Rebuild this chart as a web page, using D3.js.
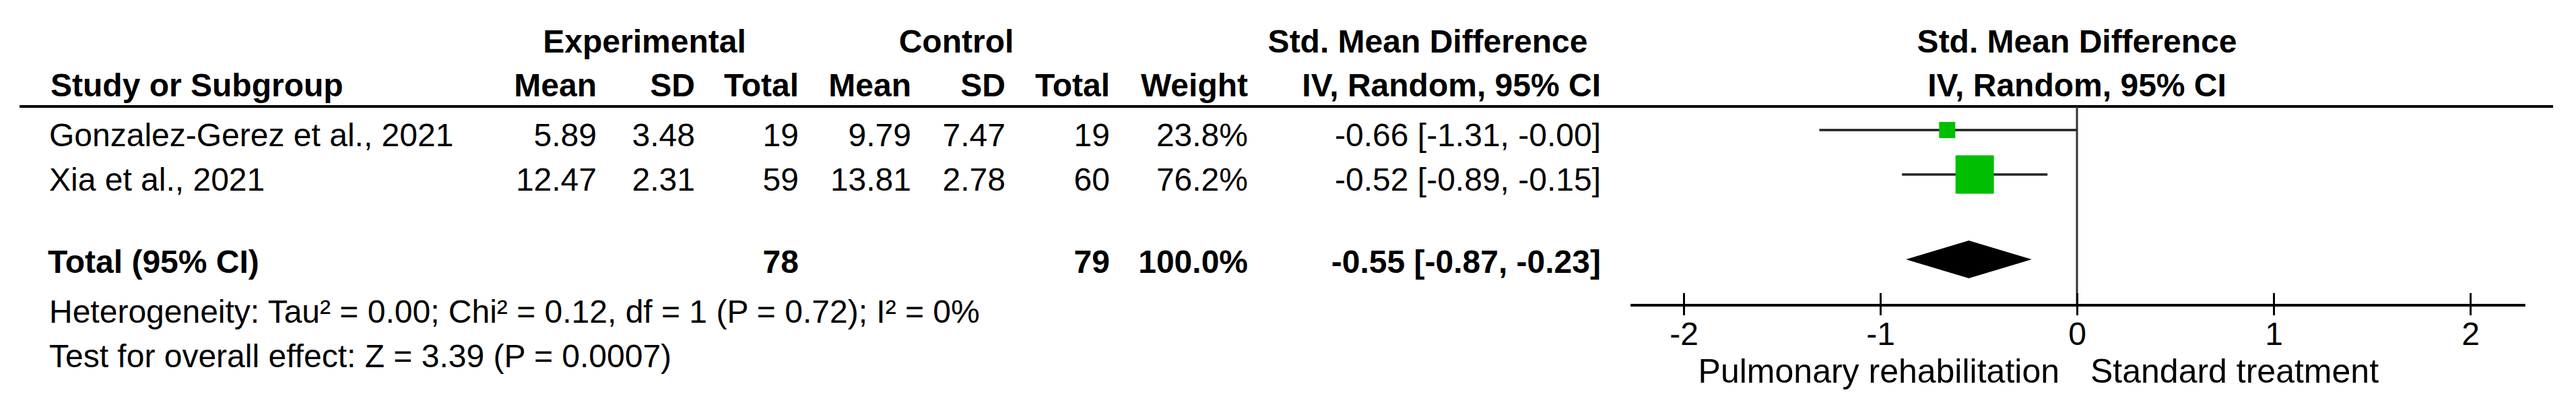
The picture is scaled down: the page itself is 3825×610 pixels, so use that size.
<!DOCTYPE html>
<html>
<head>
<meta charset="utf-8">
<script src="https://cdn.jsdelivr.net/npm/d3@7"></script>
<style>
  body { margin: 0; background: #fff; }
  svg { display: block; background: #fff; }
  text { font-family: "Liberation Sans", Arial, sans-serif; font-size: 48px; fill: #000; }
  .bold { font-weight: bold; }
  .favour { font-size: 50px; }
</style>
</head>
<body>
<svg id="forest"></svg>
<script>
// study data
var studies = ["Gonzalez-Gerez et al., 2021", "Xia et al., 2021"];
var expMean = [5.89, 12.47];
var expSD = [3.48, 2.31];
var expN = [19, 59];
var ctlMean = [9.79, 13.81];
var ctlSD = [7.47, 2.78];
var ctlN = [19, 60];
var weights = [23.8, 76.2];
var smd = [-0.66, -0.52];
var ciLow = [-1.31, -0.89];
var ciHigh = [-0.00, -0.15];

// pooled result
var totalExpN = 78;
var totalCtlN = 79;
var totalWeight = 100.0;
var totalSmd = -0.55;
var totalLow = -0.87;
var totalHigh = -0.23;
var hetStats = { tau2: "0.00", chi2: "0.12", df: 1, p: "0.72", i2: 0 };
var overall = { z: "3.39", p: "0.0007" };

var tickValues = [-2, -1, 0, 1, 2];
var favourLabels = ["Pulmonary rehabilitation", "Standard treatment"];

// layout
var chartWidth = 3825, chartHeight = 610;
var header1Y = 78, header2Y = 143, ruleY = 158;
var firstRowY = 217, rowStep = 66, totalY = 405;
var hetY = 479, testY = 545;
var axisY = 453, legendY = 568;
var textLeft = 73;

var svg = d3.select('#forest').attr('width', chartWidth).attr('height', chartHeight);

var x = d3.scaleLinear().domain([-2, 2]).range([2500, 3668]);
var boxSize = d3.scaleLinear().domain([0, 100]).range([9, 72]);

function fmt2(v) {
  var neg = v < 0 || Object.is(v, -0);
  return (neg ? "-" : "") + Math.abs(v).toFixed(2);
}
function ciText(m, l, h) {
  return fmt2(m) + " [" + fmt2(l) + ", " + fmt2(h) + "]";
}
function rowY(i) { return firstRowY + i * rowStep; }

function addText(str, px, py, anchor, bold) {
  return svg.append('text')
    .attr('x', px)
    .attr('y', py)
    .attr('text-anchor', anchor || 'start')
    .attr('class', bold ? 'bold' : null)
    .text(str);
}

/* headers */
addText("Experimental", 957, header1Y, 'middle', true);
addText("Control", 1420, header1Y, 'middle', true);
addText("Std. Mean Difference", 2120, header1Y, 'middle', true);
addText("Std. Mean Difference", x(0), header1Y, 'middle', true);

addText("Study or Subgroup", 75, header2Y, 'start', true);
var colX = [886, 1032, 1186, 1353, 1493, 1648, 1853];
var colNames = ["Mean", "SD", "Total", "Mean", "SD", "Total", "Weight"];
colNames.forEach(function(n, i) { addText(n, colX[i], header2Y, 'end', true); });
addText("IV, Random, 95% CI", 2377, header2Y, 'end', true);
addText("IV, Random, 95% CI", x(0), header2Y, 'middle', true);

svg.append('line')
  .attr('x1', 29).attr('x2', 3791)
  .attr('y1', ruleY).attr('y2', ruleY)
  .attr('stroke', '#000').attr('stroke-width', 4);

/* study rows */
studies.forEach(function(s, i) {
  var y = rowY(i);
  addText(s, textLeft, y);
  var vals = [expMean[i].toFixed(2), expSD[i].toFixed(2), expN[i],
              ctlMean[i].toFixed(2), ctlSD[i].toFixed(2), ctlN[i],
              weights[i].toFixed(1) + "%"];
  vals.forEach(function(v, j) { addText(v, colX[j], y, 'end'); });
  addText(ciText(smd[i], ciLow[i], ciHigh[i]), 2377, y, 'end');
});

/* total row */
addText("Total (95% CI)", textLeft - 2, totalY, 'start', true);
addText(totalExpN, colX[2], totalY, 'end', true);
addText(totalCtlN, colX[5], totalY, 'end', true);
addText(totalWeight.toFixed(1) + "%", colX[6], totalY, 'end', true);
addText(ciText(totalSmd, totalLow, totalHigh), 2377, totalY, 'end', true);

addText("Heterogeneity: Tau\u00b2 = " + hetStats.tau2 + "; Chi\u00b2 = " + hetStats.chi2 +
  ", df = " + hetStats.df + " (P = " + hetStats.p + "); I\u00b2 = " + hetStats.i2 + "%", textLeft, hetY);
addText("Test for overall effect: Z = " + overall.z + " (P = " + overall.p + ")", textLeft, testY);

/* forest plot */
// zero line
svg.append('line')
  .attr('x1', x(0)).attr('x2', x(0))
  .attr('y1', ruleY).attr('y2', axisY)
  .attr('stroke', '#333').attr('stroke-width', 3);

// confidence intervals
svg.selectAll('.ci').data(studies).enter().append('line')
  .attr('class', 'ci')
  .attr('x1', function(d, i) { return x(ciLow[i]); })
  .attr('x2', function(d, i) { return x(ciHigh[i]); })
  .attr('y1', function(d, i) { return rowY(i) - 24; })
  .attr('y2', function(d, i) { return rowY(i) - 24; })
  .attr('stroke', '#222').attr('stroke-width', 3.5);

// weight boxes
svg.selectAll('.box').data(studies).enter().append('rect')
  .attr('class', 'box')
  .attr('x', function(d, i) { return x(smd[i]) - boxSize(weights[i]) / 2; })
  .attr('y', function(d, i) { return rowY(i) - 24 - boxSize(weights[i]) / 2; })
  .attr('width', function(d, i) { return boxSize(weights[i]); })
  .attr('height', function(d, i) { return boxSize(weights[i]); })
  .attr('fill', '#00bf00');

// pooled diamond
var dy = totalY - 20, dh = 28;
svg.append('path')
  .attr('d', 'M' + x(totalLow) + ',' + dy +
    'L' + x(totalSmd) + ',' + (dy - dh) +
    'L' + x(totalHigh) + ',' + dy +
    'L' + x(totalSmd) + ',' + (dy + dh) + 'Z')
  .attr('fill', '#000');

// axis
svg.append('line')
  .attr('x1', x(-2.27)).attr('x2', x(2.28))
  .attr('y1', axisY).attr('y2', axisY)
  .attr('stroke', '#000').attr('stroke-width', 4);

var axis = d3.axisBottom(x)
  .tickValues(tickValues)
  .tickSize(15)
  .tickPadding(10)
  .tickFormat(function(d) { return String(d); });

var gAxis = svg.append('g')
  .attr('transform', 'translate(0,' + axisY + ')')
  .call(axis);
gAxis.attr('font-size', null).attr('font-family', null);
gAxis.select('.domain').remove();
gAxis.selectAll('.tick line')
  .attr('y1', -18)
  .attr('stroke', '#000')
  .attr('stroke-width', 3);

// favours labels
addText(favourLabels[0], x(0) - 26, legendY, 'end').attr('class', 'favour');
addText(favourLabels[1], x(0) + 20, legendY, 'start').attr('class', 'favour');
</script>
</body>
</html>
